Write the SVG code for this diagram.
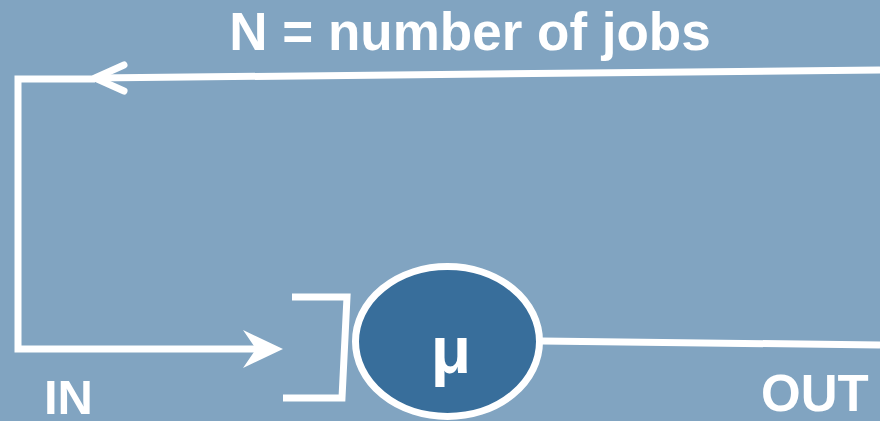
<svg xmlns="http://www.w3.org/2000/svg" width="880" height="421" viewBox="0 0 880 421">
  <style>
    .ln { fill: none; stroke: #ffffff; stroke-width: 7; }
    .lbl { font-family: "Liberation Sans", Arial, sans-serif; font-weight: bold; fill: #ffffff; }
  </style>
  <defs>
    <marker id="filled" markerUnits="userSpaceOnUse" markerWidth="50" markerHeight="50" refX="13" refY="20" orient="auto">
      <path d="M40,20 L0,1 L13,20 L0,39 Z" fill="#ffffff"/>
    </marker>
  </defs>
  <rect width="880" height="421" fill="#81A4C1"/>
  <text class="lbl" x="470" y="50" font-size="53" text-anchor="middle">N = number of jobs</text>
  <g id="connectors">
    <path class="ln" d="M880,70 L95,78"/>
    <path d="M124,65 L95,78 L124,91" fill="none" stroke="#ffffff" stroke-width="7" stroke-linecap="round" stroke-linejoin="round"/>
    <path class="ln" d="M95,79 L18,79 L18,349 L256,349" marker-end="url(#filled)"/>
    <path class="ln" d="M542,341 L880,345"/>
  </g>
  <g id="queue">
    <path class="ln" d="M292,297 L347,297 L342,398 L283,398"/>
  </g>
  <g id="server">
    <ellipse cx="447.5" cy="341.5" rx="92" ry="75" fill="#386E9B" stroke="#ffffff" stroke-width="7"/>
    <text class="lbl" x="451" y="373" font-size="66" text-anchor="middle">μ</text>
  </g>
  <text class="lbl" x="44" y="414" font-size="49">IN</text>
  <text class="lbl" x="761" y="411" font-size="51">OUT</text>
</svg>
